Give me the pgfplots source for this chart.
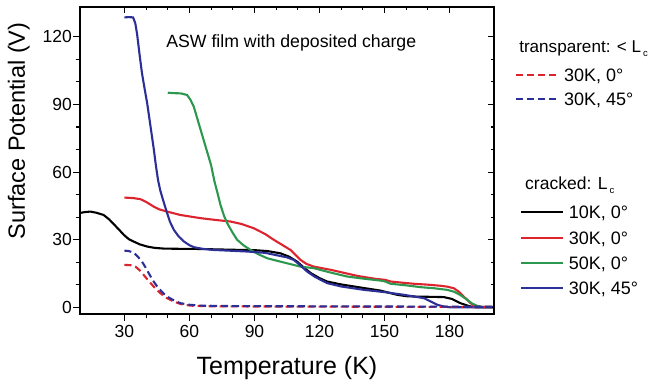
\documentclass[border=0pt]{standalone}
\usepackage{fontspec}
\setmainfont{Liberation Sans}
\usepackage{pgfplots}
\pgfplotsset{compat=1.18}
\definecolor{cred}{RGB}{221,36,46}
\definecolor{cgreen}{RGB}{44,152,78}
\definecolor{cblue}{RGB}{44,48,150}
\newcommand{\subc}{\kern2pt\raisebox{-4pt}{\fontsize{9.5}{9.5}\selectfont c}}
\newcommand{\tlfont}{\fontsize{17.5}{17.5}\selectfont}
\begin{document}
\begin{tikzpicture}
\pgfplotsset{
  common/.style={
    scale only axis, width=414pt, height=307pt,
    at={(0pt,0pt)}, anchor=south west,
    xmin=9.5, xmax=200.5, ymin=-2.9, ymax=133.2,
    xtick={30,60,...,180}, ytick={0,30,...,120},
    minor x tick num=2, minor y tick num=2,
    axis line style={line width=1.2pt},
    every tick/.style={line width=1.1pt, black},
    major tick length=7pt, minor tick length=4pt,
    /pgf/number format/assume math mode=true,
    xticklabel style={font=\tlfont, inner sep=0pt, yshift=-4pt},
    yticklabel style={font=\tlfont, inner sep=0pt, xshift=-1pt},
    legend cell align=left,
  },
}
\begin{axis}[common, clip mode=individual,
  tick align=outside, xtick pos=left, ytick pos=left,
  xlabel={Temperature (K)}, ylabel={Surface Potential (V)},
  xlabel style={font=\fontsize{25}{25}\selectfont, at={(axis description cs:0.5,-0.1987)}, anchor=base},
  ylabel style={font=\fontsize{23.5}{23.5}\selectfont, at={(axis description cs:-0.1329,0.596)}, anchor=base},
  legend image code/.code={\draw[#1] (0pt,0pt) -- (41.7pt,0pt);},
  legend style={draw=none, fill=none, inner sep=0pt, outer sep=0pt,
    at={(rel axis cs:1.0628,0.3524)}, anchor=north west,
    font=\fontsize{18}{18}\selectfont,
    nodes={inner sep=0pt, text height=13pt, text depth=0pt},
    row sep=12.3pt, column sep=5pt},
]
\addplot[black, line width=2.1pt] coordinates {
(10,42.0) (12,42.3) (14.3,42.5) (17,42.0) (20.4,41.0) (23,39) (25,37.0) (27.5,34.5)
(29.7,32.2) (32,30.3) (34.3,29.2) (37,28) (40.5,27.0) (44,26.4) (48.2,26.1) (55,26.0)
(60.5,26.0) (70,25.8) (78.9,25.6) (90,25.4) (96,25.0) (102,24.0) (106,22.5) (109.7,20.3)
(113,17.5) (116,15.2) (120,13) (123.5,11.5) (130,10.2) (140.5,8.6) (148,7.5) (155.9,5.6)
(160,5.0) (165,4.8) (172,4.7) (177.3,4.6) (181,3.8) (185,1.9) (189.7,0.4) (192,0.1) (200,0.1)};
\addlegendentry{10K, 0°}
\addplot[cred, line width=2.1pt] coordinates {
(30,48.7) (34,48.5) (37.4,48) (40,46.8) (43.5,44.7) (46,43.5) (49.7,42.5) (55.8,41)
(65,39.6) (72,38.8) (78.9,38.1) (84,37.0) (89.7,35.1) (95,32.5) (98.9,30) (102,28.2)
(106.6,25.5) (111.2,21.1) (114,19.3) (117.4,18.1) (125.1,16.7) (137.4,14) (145,12.8)
(150.5,12.2) (152.8,11.5) (158,11.0) (163.5,10.5) (170,10.1) (176,9.6) (179,9.2) (182,8.5)
(184.5,6.8) (186.6,4.8) (188.5,3) (190.5,1.2) (194.3,0.3) (200,0.2)};
\addlegendentry{30K, 0°}
\addplot[cgreen, line width=2.1pt] coordinates {
(50,95.2) (53,95.0) (56,94.9) (58.9,94.2) (60.5,92) (62,89) (64,82.5) (66,76) (68,69.5)
(70,63) (71.5,56) (73,50.5) (74.3,45.5) (76,40.5) (77.4,37.4) (80,33) (82,30) (85,27.5)
(88.2,25.5) (92,23.5) (95.9,21.8) (100,20.8) (102,20.3) (106.6,19.2) (111.2,18.1)
(117.4,17.4) (125,15.5) (132.8,13.7) (140,12.8) (148.2,11.9) (150,11.6) (152.8,10.5)
(160,9.8) (166.6,9.0) (173,8.5) (178.9,7.8) (182,7) (185,5.5) (188.1,3.4) (190.5,1.7)
(192.7,0.7) (195,0.2) (200,0.2)};
\addlegendentry{50K, 0°}
\addplot[cblue, line width=2.1pt] coordinates {
(30,128.6) (32,128.7) (34,128.6) (35,126) (35.8,121.5) (37,112) (38.1,103.8) (39.3,97)
(40.5,90.5) (42,80.5) (43.5,70.5) (44.5,63) (45.5,56.5) (46.5,52) (47.4,49) (48.5,45.5) (49.7,41.8)
(51,38) (52.8,34.4) (55,31.5) (57.5,29.2) (60,27.6) (62.1,26.7) (66,26) (71.2,25.5)
(80,25.1) (86.6,24.8) (95,24.2) (102,22.8) (105,22.2) (108.1,21.1) (111,18.8) (114.3,15.9)
(118,13.5) (123.5,10.8) (130,9.3) (140.5,7.8) (150,6.8) (159,5.6) (164,4.8) (168.2,4.1)
(171,2.8) (174.3,1.2) (177.4,0.4) (180,0.1) (200,0.1)};
\addlegendentry{30K, 45°}
\node[anchor=base west, font=\fontsize{17.7}{17.7}\selectfont] at (rel axis cs:0.2,0.8687) {ASW film with deposited charge};
\node[anchor=base west, font=\fontsize{17.1}{17.1}\selectfont] at (rel axis cs:1.0525,0.8511) {transparent: < L\subc};
\node[anchor=base west, font=\fontsize{17.5}{17.5}\selectfont] at (rel axis cs:1.0669,0.4039) {cracked: L\subc};
\end{axis}
\begin{axis}[common,
  tick align=inside, xtick pos=right, ytick pos=right,
  xticklabels={}, yticklabels={},
  major tick length=6pt, minor tick length=3.5pt,
  legend image code/.code={\draw[#1] (0pt,0pt) -- (40pt,0pt);},
  legend style={draw=none, fill=none, inner sep=0pt, outer sep=0pt,
    at={(rel axis cs:1.0507,0.7997)}, anchor=north west,
    font=\fontsize{18}{18}\selectfont,
    nodes={inner sep=0pt, text height=13pt, text depth=0pt},
    row sep=11.3pt, column sep=7pt},
]
\addplot[cred, line width=2.1pt, dash pattern=on 7pt off 4pt] coordinates {
(30,18.9) (33,18.7) (35.1,18.1) (37,16.5) (38.9,14.4) (40.8,12.2) (42.8,10) (44.7,8)
(46.6,6.3) (49.5,4.2) (52.8,2.6) (56,1.5) (60.5,0.8) (70,0.5) (100,0.4) (150,0.3) (200,0.2)};
\addlegendentry{30K, 0°}
\addplot[cblue, line width=2.1pt, dash pattern=on 7pt off 4pt] coordinates {
(30,25.2) (32,25) (34.3,24.3) (36.2,22.5) (38.1,20.3) (39.7,17.8) (41.2,15.2) (43.1,12)
(45.1,9.3) (47.4,6.8) (49.7,4.8) (52.7,3.2) (55.8,1.9) (60,1.2) (65,0.8) (80,0.6)
(120,0.5) (160,0.4) (200,0.3)};
\addlegendentry{30K, 45°}
\end{axis}
\pgfresetboundingbox
\path[use as bounding box] (-80pt,-73pt) rectangle (570pt,314pt);
\end{tikzpicture}
\end{document}
